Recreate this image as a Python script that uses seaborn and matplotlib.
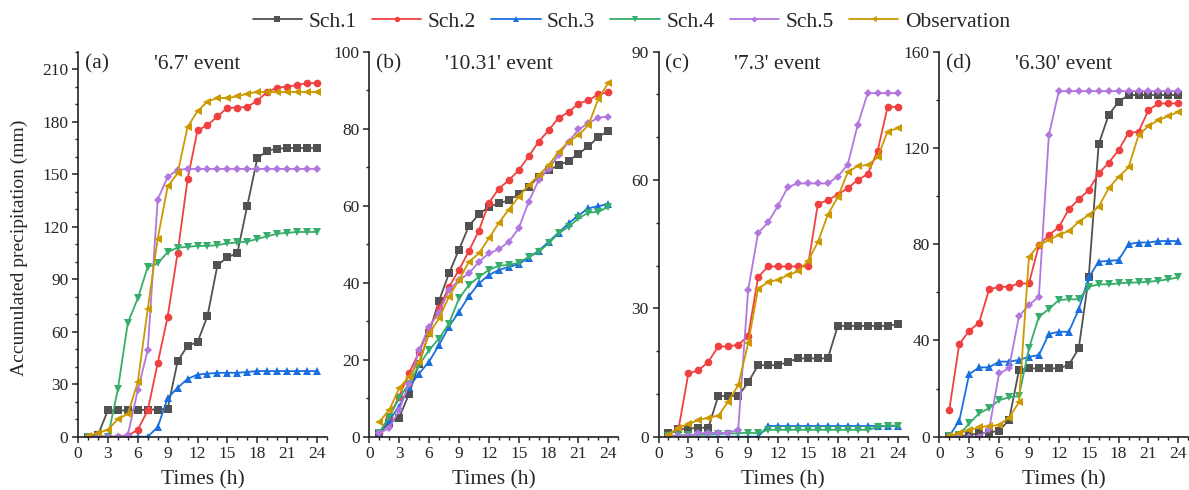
import numpy as np
import pandas as pd
import matplotlib
matplotlib.use("Agg")
import matplotlib.pyplot as plt
from matplotlib.ticker import MultipleLocator
import seaborn as sns

sns.set_style("ticks")
plt.rcParams['font.family'] = ['Liberation Serif', 'DejaVu Serif']
plt.rcParams['mathtext.fontset'] = 'stix'

hours = list(range(1, 25))
series_names = ["Sch.1", "Sch.2", "Sch.3", "Sch.4", "Sch.5", "Observation"]
colors = ["#515151", "#F14040", "#1A6FDF", "#37AD6B", "#B177DE", "#CC9900"]
markers = ["s", "o", "^", "v", "D", "<"]

# Panel (a) '6.7' event
a_s1 = [0, 1, 15, 15, 15, 15, 15.5, 15.5, 16, 43, 52, 54, 69, 98, 102.5, 105, 132, 159, 163.5, 164.5, 165, 165, 165, 165]
a_s2 = [0, 0, 0, 0, 0.5, 4, 15, 42, 68.5, 105, 147, 175, 178, 183, 188, 188, 188.5, 192, 197, 199.5, 200, 201, 202, 202]
a_s3 = [0, 0, 0, 0, 0, 0, 0, 5.5, 22, 28, 33, 35.5, 36, 36.5, 36.5, 36.5, 37, 37.5, 37.5, 37.5, 37.5, 37.5, 37.5, 37.5]
a_s4 = [0, 0, 0, 27, 65, 79, 97, 99, 105.5, 108, 108.5, 109, 109, 109.5, 110.5, 111, 111.5, 113, 114.5, 116, 116.5, 117, 117, 117]
a_s5 = [0, 0, 0, 0, 1, 26.5, 49.5, 135.5, 148.5, 152.5, 153, 153, 153, 153, 153, 153, 153, 153, 153, 153, 153, 153, 153, 153]
a_obs = [0.5, 2, 4, 10, 13, 31, 73, 113, 143, 150.5, 177, 186, 191.5, 193.5, 193.5, 194.5, 196, 197, 197, 197, 197, 197, 197, 197]

# Panel (b) '10.31' event
b_s1 = [0.9, 3.5, 4.9, 11.2, 19, 27, 35.3, 42.4, 48.6, 54.7, 57.8, 59.7, 60.6, 61.4, 63, 64.9, 67.5, 69.2, 70.5, 71.6, 73.5, 75.4, 77.9, 79.4]
b_s2 = [0.9, 5.2, 10.4, 16.6, 22, 28.1, 33.3, 38.9, 43.3, 48.2, 53.5, 60.7, 64.4, 66.6, 69.2, 72.8, 76.6, 79.6, 82.8, 84.3, 86.5, 87.4, 88.9, 89.5]
b_s3 = [0.9, 4.3, 7.8, 13, 16.4, 19.5, 23.8, 28.6, 32.4, 36.5, 39.8, 42, 43.3, 44.1, 44.8, 46.5, 48.3, 50.6, 53, 55.4, 57.5, 59.3, 59.9, 60.4]
b_s4 = [0.9, 5.2, 10, 13.8, 18.6, 22.5, 25.5, 29.4, 35.9, 39.4, 41.5, 43.3, 44.4, 44.6, 45.2, 46.7, 48, 50.2, 52.8, 54.5, 56.7, 58.2, 58.4, 59.7]
b_s5 = [0.9, 2.2, 6.9, 13.8, 22.5, 28.6, 32.2, 38.1, 40.7, 42.4, 45.4, 47.6, 48.7, 50.6, 54.1, 61, 66.6, 69.6, 73.1, 76.6, 79.8, 81.4, 82.9, 83.1]
b_obs = [3.9, 6.9, 12.6, 15.6, 19.5, 26.8, 30.7, 36.4, 40.7, 45.4, 47.6, 51.5, 55.5, 59, 62.3, 65.3, 67.9, 70.5, 74, 76.6, 78.3, 80.9, 87.8, 91.9]

# Panel (c) '7.3' event
c_s1 = [0.8, 1.7, 1.9, 2.1, 2.1, 9.5, 9.5, 9.5, 12.7, 16.7, 16.7, 16.7, 17.5, 18.3, 18.3, 18.3, 18.3, 25.9, 25.9, 25.9, 25.9, 25.9, 25.9, 26.3]
c_s2 = [0.5, 1.7, 14.8, 15.5, 17.5, 21.1, 21.1, 21.5, 23.5, 37.3, 39.8, 39.8, 39.8, 39.8, 39.8, 54.4, 55.3, 56.6, 58.1, 60, 61.4, 66.8, 77.1, 77.1]
c_s3 = [0, 0, 0, 0, 0, 0, 0, 0, 0, 0, 2.5, 2.5, 2.5, 2.5, 2.5, 2.5, 2.5, 2.5, 2.5, 2.5, 2.5, 2.5, 2.5, 2.5]
c_s4 = [0.2, 0.3, 0.4, 0.5, 0.5, 0.6, 0.7, 0.8, 0.9, 0.8, 1.6, 1.6, 1.6, 1.6, 1.6, 1.6, 1.6, 1.6, 1.6, 1.6, 1.6, 2.2, 2.6, 2.6]
c_s5 = [0, 0.2, 0.2, 0.8, 0.9, 0.9, 0.9, 1.6, 34.3, 47.6, 50.1, 54, 58.4, 59.2, 59.2, 59.2, 59.2, 60.8, 63.6, 72.9, 80.3, 80.3, 80.3, 80.3]
c_obs = [0.5, 2.1, 2.9, 3.9, 4.4, 4.9, 8.2, 12, 21.8, 34.6, 36.1, 36.7, 37.7, 38.7, 41, 45.5, 51.9, 56, 61.8, 63.3, 63.5, 65.3, 71.3, 72.1]

# Panel (d) '6.30' event
d_s1 = [0.3, 0.3, 0.7, 1.4, 1.7, 2.5, 6.9, 27.7, 28.4, 28.4, 28.4, 28.4, 29.8, 36.7, 66.2, 121.5, 133.7, 139.2, 142, 142, 142, 142, 142, 142]
d_s2 = [11.1, 38.4, 44, 47.4, 61.2, 62.3, 62.3, 63.7, 63.7, 79.6, 83.8, 87, 94.5, 98.6, 102.5, 109.4, 113.8, 119.1, 126.3, 126.7, 135.7, 138.5, 138.5, 138.5]
d_s3 = [0.3, 6.5, 26, 28.8, 28.8, 31.2, 31.2, 31.9, 33.2, 33.9, 42.7, 43.6, 43.6, 52.9, 66.2, 72.7, 73.1, 73.4, 80, 80.7, 80.7, 81.3, 81.3, 81.3]
d_s4 = [0.3, 0.7, 5.5, 9.7, 11.8, 15.2, 16.3, 16.9, 36.7, 49.9, 53, 56.8, 57.1, 57.1, 62.3, 63.3, 63.3, 63.7, 64, 64.1, 64.4, 64.8, 65.4, 66.2]
d_s5 = [0, 0, 0, 0, 3, 26.3, 28.4, 50.1, 54.7, 58.2, 125.3, 143.6, 143.6, 143.6, 143.6, 143.6, 143.6, 143.6, 143.6, 143.6, 143.6, 143.6, 143.6, 143.6]
d_obs = [0.3, 1.4, 2.8, 3.9, 4.4, 4.8, 7.9, 14.3, 74.8, 79.6, 81.7, 83.8, 85.5, 89.3, 92.1, 95.6, 103.2, 108, 111.9, 125.3, 129.1, 131.6, 133.2, 135]

panel_labels = ["(a)", "(b)", "(c)", "(d)"]
event_titles = ["'6.7' event", "'10.31' event", "'7.3' event", "'6.30' event"]
y_max = [220, 100, 90, 160]
y_major = [30, 20, 30, 40]
y_minor = [10, 10, 10, 20]
panel_data = [
    [a_s1, a_s2, a_s3, a_s4, a_s5, a_obs],
    [b_s1, b_s2, b_s3, b_s4, b_s5, b_obs],
    [c_s1, c_s2, c_s3, c_s4, c_s5, c_obs],
    [d_s1, d_s2, d_s3, d_s4, d_s5, d_obs],
]

fig = plt.figure(figsize=(11.89, 4.90), dpi=100)
lefts = [78 / 1189, 369.3 / 1189, 658.5 / 1189, 939.3 / 1189]
width = 249 / 1189
bottom = 0.1088
height = 0.7857

tick_fs = 12.5
for i in range(4):
    ax = fig.add_axes([lefts[i], bottom, width, height])
    for name, vals, col, mk in zip(series_names, panel_data[i], colors, markers):
        df = pd.DataFrame({"Time": hours, "Value": vals})
        sns.lineplot(data=df, x="Time", y="Value", ax=ax, color=col, marker=mk,
                     markersize=5.5 if mk != "D" else 4.5, markeredgewidth=0,
                     linewidth=1.3, label=name, legend=False)
    ax.set_xlim(0, 25)
    ax.set_ylim(0, y_max[i])
    ax.xaxis.set_major_locator(MultipleLocator(3))
    ax.xaxis.set_minor_locator(MultipleLocator(1))
    ax.yaxis.set_major_locator(MultipleLocator(y_major[i]))
    ax.yaxis.set_minor_locator(MultipleLocator(y_minor[i]))
    ax.set_xticks(range(0, 25, 3))
    ax.tick_params(which="major", direction="out", length=4, width=1.1,
                   labelsize=tick_fs, pad=3, color="#222222")
    ax.tick_params(which="minor", direction="out", length=2.5, width=1.0, color="#222222")
    for s in ["top", "right"]:
        ax.spines[s].set_visible(False)
    for s in ["left", "bottom"]:
        ax.spines[s].set_linewidth(1.2)
        ax.spines[s].set_color("#222222")
    ax.set_xlabel("Times (h)", fontsize=15.5, fontweight="normal")
    ax.xaxis.set_label_coords(0.5, -0.088)
    if i == 0:
        ax.set_ylabel("Accumulated precipitation (mm)", fontsize=14, fontweight="normal")
        ax.yaxis.set_label_coords(-0.20, 0.49)
    else:
        ax.set_ylabel("")
    ax.text(0.028, 0.968, panel_labels[i], transform=ax.transAxes, fontsize=15.5,
            ha="left", va="center")
    ax.text(0.305, 0.968, event_titles[i], transform=ax.transAxes, fontsize=15.5,
            ha="left", va="center")
    ax.set_facecolor("white")
    if i == 0:
        handles, labels = ax.get_legend_handles_labels()

fig.legend(handles, labels, loc="center", bbox_to_anchor=(0.531, 0.956), ncol=6,
           frameon=False, fontsize=15.5, handlelength=2.3, handletextpad=0.3,
           columnspacing=0.7, markerscale=0.7)

fig.savefig("out.png", dpi=100, facecolor="white")
